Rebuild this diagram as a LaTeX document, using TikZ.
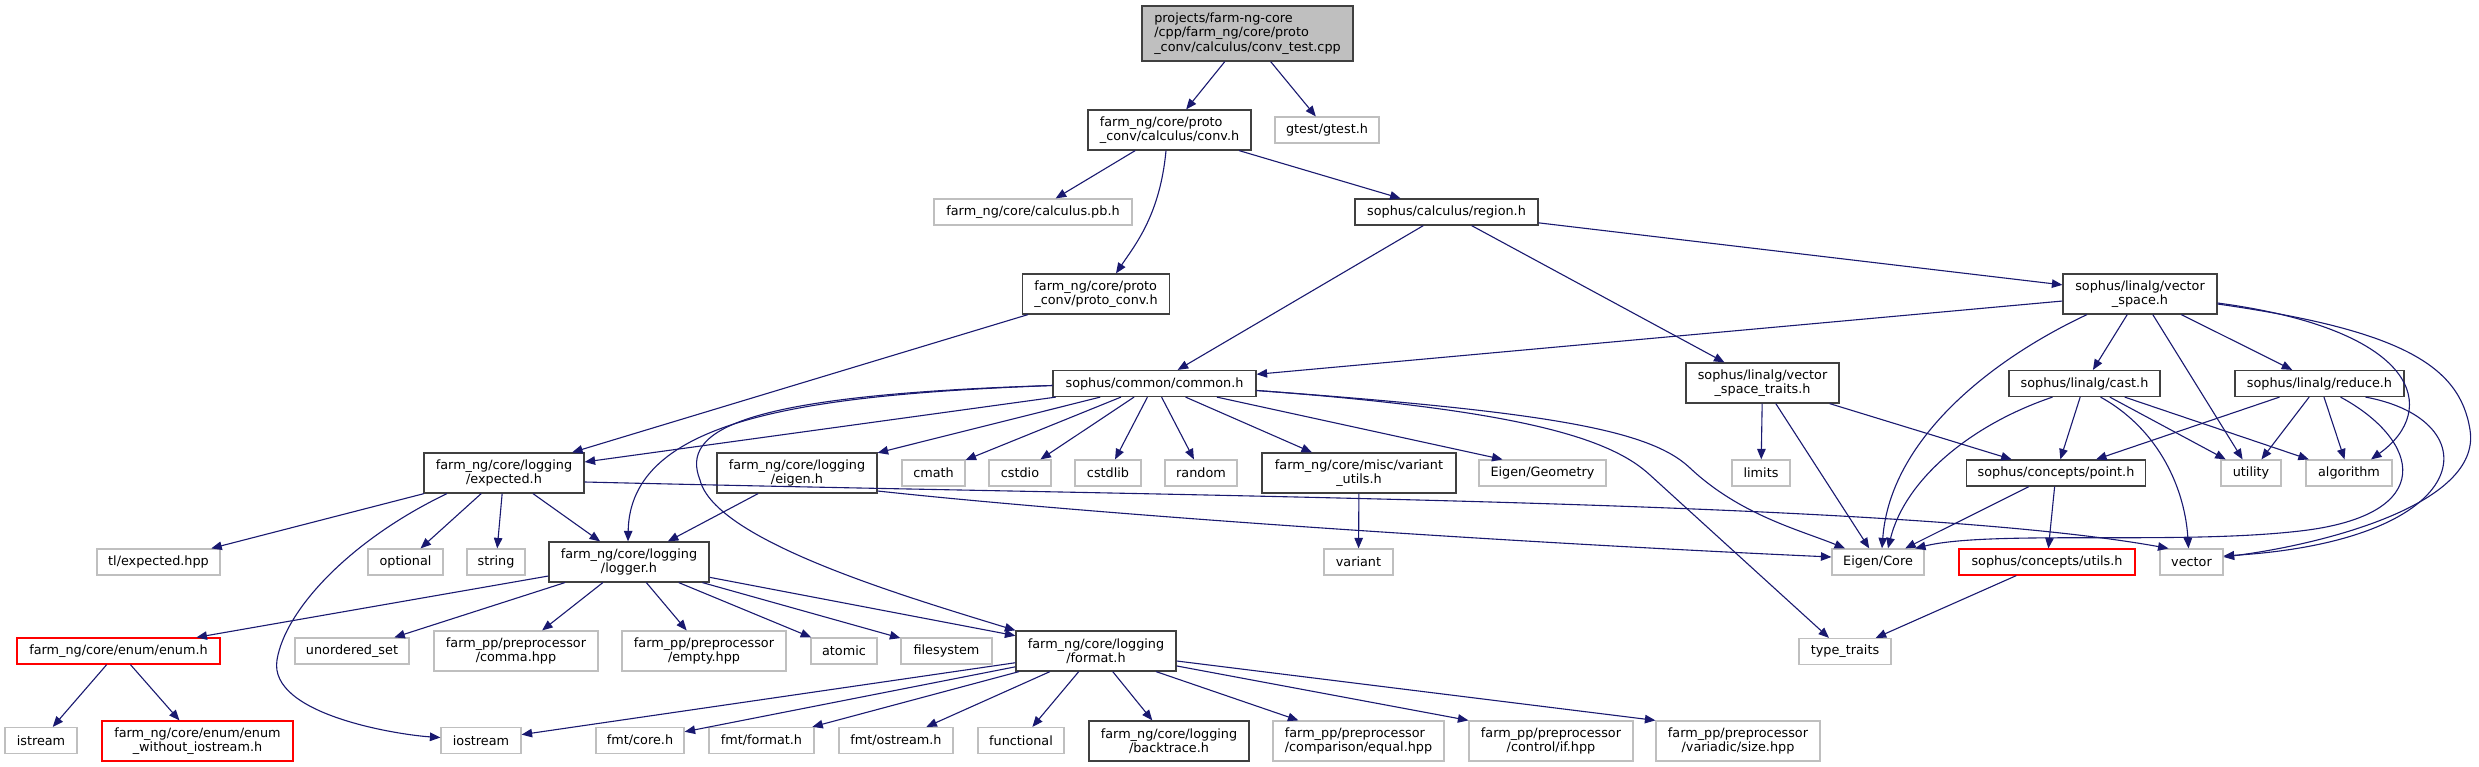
\documentclass[tikz,border=0pt]{standalone}
\usepackage{fontspec}
\setmainfont{DejaVu Sans}
\usepackage{tikz}
\usetikzlibrary{arrows.meta}
\definecolor{edgeblue}{HTML}{191970}
\definecolor{boxline}{HTML}{404040}
\definecolor{extline}{HTML}{BFBFBF}
\definecolor{rootfill}{HTML}{BFBFBF}

\begin{document}
\begin{tikzpicture}[
  x=1pt, y=-1pt, font=\fontsize{12.8}{14.5}\selectfont,
  >={Triangle[length=10.5pt, width=8.5pt]},
  box/.style={draw, line width=1.2pt, inner sep=0pt, align=center, minimum height=26},
  file/.style={box, draw=boxline},
  ext/.style={box, draw=extline},
  trunc/.style={box, draw=red},
  rootbox/.style={box, draw=boxline, fill=rootfill},
  two/.style={minimum height=40},
  wd/.style={minimum width=#1},
  dep/.style={->, draw=edgeblue, line width=1.1pt},
]
\useasboundingbox[fill=white] (0,0) rectangle (2479,767);

% files
\node[rootbox, wd=211, minimum height=55, align=left] (test) at (1247.5,33.5) {projects/farm-ng-core\\/cpp/farm\_ng/core/proto\\\_conv/calculus/conv\_test.cpp};
\node[file, two, wd=163, align=left] (conv) at (1169.5,130) {farm\_ng/core/proto\\\_conv/calculus/conv.h};
\node[ext, wd=104] (gtest) at (1327,130) {gtest/gtest.h};
\node[ext, wd=198] (calcpb) at (1033,212) {farm\_ng/core/calculus.pb.h};
\node[file, wd=183] (region) at (1446.5,212) {sophus/calculus/region.h};
\node[file, two, wd=147, align=left] (protoconv) at (1096,294) {farm\_ng/core/proto\\\_conv/proto\_conv.h};
\node[file, two, wd=154] (vspace) at (2140,294) {sophus/linalg/vector\\\_space.h};
\node[file, wd=203] (common) at (1154.5,383.5) {sophus/common/common.h};
\node[file, two, wd=153] (vstraits) at (1762.5,383) {sophus/linalg/vector\\\_space\_traits.h};
\node[file, wd=151] (cast) at (2084.5,383.5) {sophus/linalg/cast.h};
\node[file, wd=169] (reduce) at (2319.5,383.5) {sophus/linalg/reduce.h};

\node[file, two, wd=160] (expected) at (504,473) {farm\_ng/core/logging\\/expected.h};
\node[file, two, wd=160] (eigenh) at (797,473) {farm\_ng/core/logging\\/eigen.h};
\node[ext, wd=63] (cmath) at (933.5,473) {cmath};
\node[ext, wd=62] (cstdio) at (1020,473) {cstdio};
\node[ext, wd=66] (cstdlib) at (1108,473) {cstdlib};
\node[ext, wd=72] (random) at (1201,473) {random};
\node[file, two, wd=194] (variantutils) at (1359,473) {farm\_ng/core/misc/variant\\\_utils.h};
\node[ext, wd=127] (eigengeo) at (1542.5,473) {Eigen/Geometry};
\node[ext, wd=58] (limits) at (1761,473) {limits};
\node[file, wd=179] (point) at (2056,473) {sophus/concepts/point.h};
\node[ext, wd=60] (utility) at (2251,473) {utility};
\node[ext, wd=86] (algorithm) at (2349,473) {algorithm};

\node[ext, wd=123] (tlexpected) at (158.5,562) {tl/expected.hpp};
\node[ext, wd=75] (optional) at (405.5,562) {optional};
\node[ext, wd=58] (string) at (496,562) {string};
\node[file, two, wd=160] (logger) at (629,562) {farm\_ng/core/logging\\/logger.h};
\node[ext, wd=69] (variant) at (1358.5,562) {variant};
\node[ext, wd=92] (eigencore) at (1878,562) {Eigen/Core};
\node[trunc, wd=176] (utils) at (2047,562) {sophus/concepts/utils.h};
\node[ext, wd=63] (vector) at (2191.5,562) {vector};

\node[trunc, wd=203] (enum) at (118.5,651) {farm\_ng/core/enum/enum.h};
\node[ext, wd=114] (unorderedset) at (352,651) {unordered\_set};
\node[ext, two, wd=164] (comma) at (516,651) {farm\_pp/preprocessor\\/comma.hpp};
\node[ext, two, wd=164] (empty) at (704,651) {farm\_pp/preprocessor\\/empty.hpp};
\node[ext, wd=66] (atomic) at (844,651) {atomic};
\node[ext, wd=91] (filesystem) at (946.5,651) {filesystem};
\node[file, two, wd=160] (format) at (1096,651) {farm\_ng/core/logging\\/format.h};
\node[ext, wd=92] (typetraits) at (1845,651.5) {type\_traits};

\node[ext, wd=72] (istream) at (41,740.5) {istream};
\node[trunc, two, wd=191] (enumwo) at (197.5,741) {farm\_ng/core/enum/enum\\\_without\_iostream.h};
\node[ext, wd=80] (iostream) at (481,740.5) {iostream};
\node[ext, wd=88] (fmtcore) at (640,740.5) {fmt/core.h};
\node[ext, wd=105] (fmtformat) at (761.5,740.5) {fmt/format.h};
\node[ext, wd=114] (fmtostream) at (896,740.5) {fmt/ostream.h};
\node[ext, wd=86] (functional) at (1021,740.5) {functional};
\node[file, two, wd=160] (backtrace) at (1169,741) {farm\_ng/core/logging\\/backtrace.h};
\node[ext, two, wd=171, align=left] (equal) at (1358.5,741) {farm\_pp/preprocessor\\/comparison/equal.hpp};
\node[ext, two, wd=164] (ifhpp) at (1551,741) {farm\_pp/preprocessor\\/control/if.hpp};
\node[ext, two, wd=164] (size) at (1738,741) {farm\_pp/preprocessor\\/variadic/size.hpp};

% includes
\draw[dep] (test) -- (conv);
\draw[dep] (test) -- (gtest);
\draw[dep] (conv) -- (calcpb);
\draw[dep] (conv) -- (region);
\draw[dep] ([xshift=-3.5]conv.south) .. controls (1160,215) and (1135,245) .. ([xshift=20]protoconv.north);
\draw[dep] (region) -- (common);
\draw[dep] (region) -- (vstraits);
\draw[dep] (region) -- (vspace);
\draw[dep] (protoconv) -- (expected);

% vector_space.h
\draw[dep] (vspace) -- (common);
\draw[dep] (vspace) -- (cast);
\draw[dep] (vspace) -- (reduce);
\draw[dep] (vspace) -- (utility);
\draw[dep] ([xshift=-53]vspace.south) .. controls (1990,360) and (1890,440) .. ([xshift=4]eigencore.north);
\draw[dep] ([yshift=-9]vspace.east) .. controls (2420,330) and (2440,410) .. ([xshift=22]algorithm.north);
\draw[dep] ([yshift=-10]vspace.east) .. controls (2400,330) and (2460,365) .. (2470,430)
  .. controls (2482,505) and (2320,545) .. ([yshift=5]vector.east);

% common.h
\draw[dep] (common) -- (expected);
\draw[dep] (common) -- (eigenh);
\draw[dep] (common) -- (cmath);
\draw[dep] (common) -- (cstdio);
\draw[dep] (common) -- (cstdlib);
\draw[dep] (common) -- (random);
\draw[dep] (common) -- (variantutils);
\draw[dep] (common) -- ([xshift=-40]eigengeo.north);
\draw[dep] ([yshift=-2]common.west) .. controls (800,395) and (630,420) .. ([xshift=-1]logger.north);
\draw[dep] ([yshift=-2]common.west) .. controls (740,395) and (680,430) .. (700,480)
  .. controls (715,540) and (900,595) .. (format.north west);
\draw[dep] ([yshift=-7]common.east) .. controls (1550,412) and (1650,430) .. (1690,468)
  .. controls (1740,515) and (1800,530) .. ([xshift=-33]eigencore.north);
\draw[dep] ([yshift=-7]common.east) .. controls (1520,410) and (1610,438) .. (1650,475)
  -- ([xshift=-16]typetraits.north);

% vector_space_traits.h, cast.h, reduce.h
\draw[dep] (vstraits) -- (limits);
\draw[dep] (vstraits) -- (eigencore);
\draw[dep] (vstraits) -- (point);
\draw[dep] (cast) -- (point);
\draw[dep] (cast) -- (utility);
\draw[dep] (cast) -- (algorithm);
\draw[dep] ([xshift=-32]cast.south) .. controls (1970,425) and (1905,480) .. ([xshift=10]eigencore.north);
\draw[dep] ([xshift=16]cast.south) .. controls (2160,430) and (2185,490) .. ([xshift=-3]vector.north);
\draw[dep] (reduce) -- (point);
\draw[dep] (reduce) -- (utility);
\draw[dep] (reduce) -- (algorithm);
\draw[dep] ([xshift=21]reduce.south) .. controls (2420,440) and (2440,515) .. (2300,531)
  .. controls (2180,545) and (1990,530) .. ([xshift=37]eigencore.north);
\draw[dep] ([xshift=46]reduce.south) .. controls (2490,420) and (2480,540) .. ([yshift=6]vector.east);

% logging
\draw[dep] (expected) -- (tlexpected);
\draw[dep] (expected) -- (optional);
\draw[dep] (expected) -- (string);
\draw[dep] (expected) -- (logger);
\draw[dep] ([xshift=-57]expected.south) .. controls (350,540) and (285,610) .. (277,660)
  .. controls (268,715) and (400,735) .. ([yshift=3]iostream.west);
\draw[dep] ([yshift=-9]expected.east) .. controls (1200,497) and (1900,500) .. ([xshift=-23]vector.north);
\draw[dep] (eigenh) -- (logger);
\draw[dep] ([yshift=-18]eigenh.east) .. controls (1100,515) and (1500,542) .. ([yshift=5]eigencore.west);
\draw[dep] (variantutils) -- (variant);
\draw[dep] (point) -- (eigencore);
\draw[dep] (point) -- (utils);
\draw[dep] (utils) -- (typetraits);

\draw[dep] (logger) -- (enum);
\draw[dep] (logger) -- (unorderedset);
\draw[dep] (logger) -- (comma);
\draw[dep] (logger) -- (empty);
\draw[dep] (logger) -- (atomic);
\draw[dep] (logger) -- (filesystem);
\draw[dep] (logger) -- (format);
\draw[dep] (enum) -- (istream);
\draw[dep] (enum) -- (enumwo);

\draw[dep] (format) -- (iostream);
\draw[dep] (format) -- (fmtcore);
\draw[dep] (format) -- (fmtformat);
\draw[dep] (format) -- (fmtostream);
\draw[dep] (format) -- (functional);
\draw[dep] (format) -- (backtrace);
\draw[dep] (format) -- (equal);
\draw[dep] (format) -- (ifhpp.north west);
\draw[dep] (format) -- (size.north west);
\end{tikzpicture}
\end{document}
